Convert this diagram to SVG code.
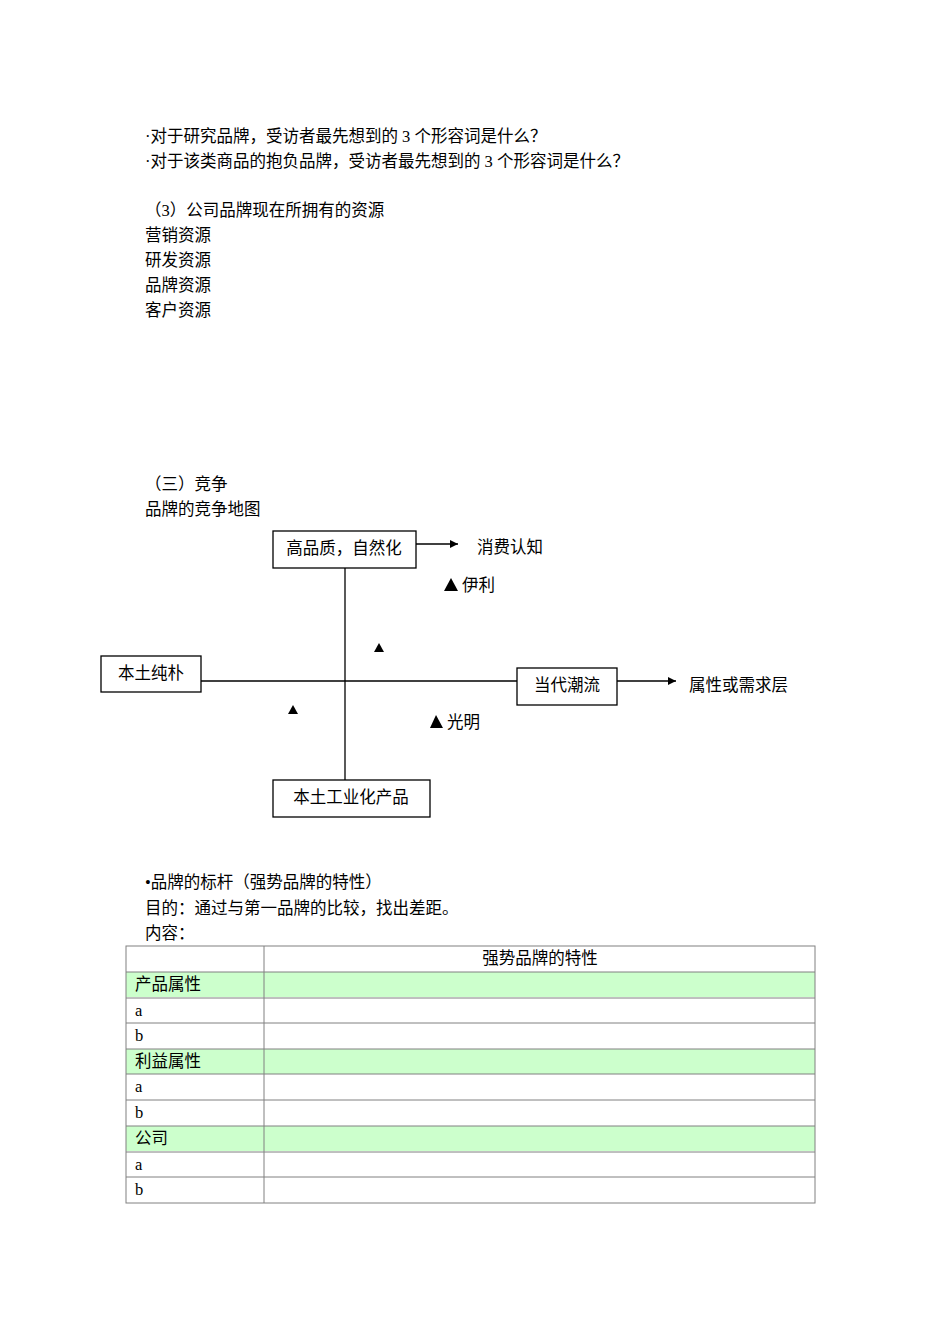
<svg xmlns="http://www.w3.org/2000/svg" width="950" height="1344" viewBox="0 0 950 1344">
<defs>
<style>
text{font-family:"Liberation Serif","Noto Sans CJK SC",serif;font-size:16.5px;fill:#000}
.box{fill:#fff;stroke:#000;stroke-width:1.3}
.ln{stroke:#000;stroke-width:1.3;fill:none}
.g{fill:#ccffcc}
.t{stroke:#808080;stroke-width:1;fill:none}
</style>
<marker id="ar" viewBox="0 0 10 10" refX="10" refY="5" markerWidth="8" markerHeight="8" orient="auto" markerUnits="userSpaceOnUse"><path d="M0,0L10,5L0,10z" fill="#000"/></marker>
</defs>
<text x="145" y="142">·对于研究品牌，受访者最先想到的 3 个形容词是什么？</text>
<text x="145" y="167">·对于该类商品的抱负品牌，受访者最先想到的 3 个形容词是什么？</text>
<text x="145" y="216">（3）公司品牌现在所拥有的资源</text>
<text x="145" y="241">营销资源</text>
<text x="145" y="266">研发资源</text>
<text x="145" y="291">品牌资源</text>
<text x="145" y="316">客户资源</text>
<text x="145" y="490">（三）竞争</text>
<text x="145" y="515">品牌的竞争地图</text>
<g id="connectors">
<line class="ln" x1="345" y1="568" x2="345" y2="780"/>
<line class="ln" x1="201" y1="681" x2="517" y2="681"/>
<line class="ln" x1="416" y1="544" x2="458" y2="544" marker-end="url(#ar)"/>
<line class="ln" x1="617" y1="681" x2="676" y2="681" marker-end="url(#ar)"/>
</g>
<g id="n-top"><rect class="box" x="273" y="531" width="143" height="37"/><text x="344" y="554" text-anchor="middle">高品质，自然化</text></g>
<g id="n-left"><rect class="box" x="101" y="656" width="100" height="36"/><text x="151" y="679" text-anchor="middle">本土纯朴</text></g>
<g id="n-right"><rect class="box" x="517" y="668" width="100" height="37"/><text x="567" y="691" text-anchor="middle">当代潮流</text></g>
<g id="n-bottom"><rect class="box" x="273" y="780" width="157" height="37"/><text x="351" y="803" text-anchor="middle">本土工业化产品</text></g>
<text x="477" y="553">消费认知</text>
<text x="689" y="691">属性或需求层</text>
<g id="marks">
<path d="M444,591L451,578L458,591z"/><text x="462" y="591">伊利</text>
<path d="M374,652L379,643L384,652z"/>
<path d="M288,714L293,705L298,714z"/>
<path d="M430,728L436,715L443,728z"/><text x="447" y="728">光明</text>
</g>
<text x="145" y="888">•品牌的标杆（强势品牌的特性）</text>
<text x="145" y="914">目的：通过与第一品牌的比较，找出差距。</text>
<text x="145" y="939">内容：</text>
<g id="table">
<rect class="g" x="126" y="972" width="689" height="25"/>
<rect class="g" x="126" y="1049" width="689" height="25"/>
<rect class="g" x="126" y="1126" width="689" height="25"/>
<rect class="t" x="126" y="946" width="689" height="257"/>
<line class="t" x1="264" y1="946" x2="264" y2="1203"/>
<path class="t" d="M126,972H815M126,998H815M126,1023H815M126,1049H815M126,1074H815M126,1100H815M126,1126H815M126,1152H815M126,1177H815"/>
<text x="540" y="964" text-anchor="middle">强势品牌的特性</text>
<text x="135" y="990">产品属性</text>
<text x="135" y="1016">a</text>
<text x="135" y="1041">b</text>
<text x="135" y="1067">利益属性</text>
<text x="135" y="1092">a</text>
<text x="135" y="1118">b</text>
<text x="135" y="1144">公司</text>
<text x="135" y="1170">a</text>
<text x="135" y="1195">b</text>
</g>
</svg>
